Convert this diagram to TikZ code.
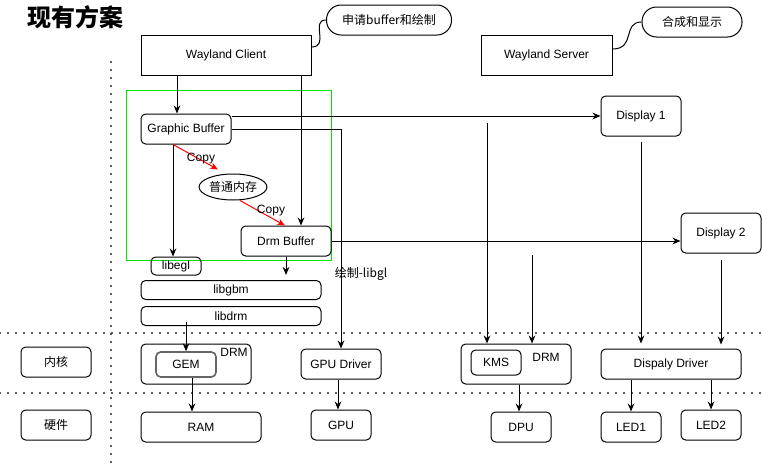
\documentclass[tikz,border=0pt]{standalone}
\usepackage{fontspec}
\setmainfont{Liberation Sans}
\newfontfamily\cjk{Noto Sans CJK SC}
\usetikzlibrary{arrows.meta,shapes.geometric,calc}

\begin{document}
\begin{tikzpicture}[x=0.75pt,y=-0.75pt,
  font=\fontsize{9}{11}\selectfont,
  line width=0.75pt,
  wh/.style 2 args={minimum width=#1*0.75pt, minimum height=#2*0.75pt},
  plain/.style={draw, inner sep=0pt},
  rbox/.style={draw, inner sep=0pt, rounded corners=3.5pt},
  pill/.style={draw, inner sep=0pt, rounded corners=11pt},
  arr/.style={-{Stealth[length=6pt,width=5pt]}},
  redarr/.style={red, -{Stealth[length=6pt,width=5pt]}},
  lbl/.style={inner sep=0pt},
  dotline/.style={line width=1.6pt, dash pattern=on 0pt off 6pt, line cap=round, black!85}
]
\useasboundingbox (0,0) rectangle (762,464);

% title
\node[lbl, font=\cjk\bfseries\fontsize{18}{21}\selectfont] (title) at (75,17) {现有方案};

% layer separators
\draw[dotline] (111,62) -- (111,464);
\draw[dotline] (0,333) -- (762,333);
\draw[dotline] (0,393) -- (762,393);

% user space
\node[plain, wh={170}{40}] (wc) at (226,55) {Wayland Client};
\node[plain, wh={131}{40}] (ws) at (546.5,55) {Wayland Server};
\node[pill, wh={125}{30}, font=\cjk\fontsize{9}{11}\selectfont] (c1) at (389,20) {申请buffer和绘制};
\node[pill, wh={100}{30}, font=\cjk\fontsize{9}{11}\selectfont] (c2) at (692,22) {合成和显示};
\draw (wc.east |- 0,47) .. controls (330,47) and (310,20) .. (c1.west);
\draw (ws.east |- 0,49) .. controls (636,49) and (622,22) .. (c2.west);

\draw[draw=green!90!black] (126,90) rectangle (331,260);

\node[rbox, wh={90}{30}] (gb) at (186,129) {Graphic Buffer};
\node[rbox, wh={90}{30}] (db) at (286,241) {Drm Buffer};
\node[draw, ellipse, inner sep=0pt, wh={58}{26}, font=\cjk\fontsize{9}{11}\selectfont] (mem) at (233,187) {普通内存};
\node[rbox, wh={50}{18}] (libegl) at (176,266) {libegl};
\node[rbox, wh={180}{19}] (libgbm) at (231,290) {libgbm};
\node[rbox, wh={180}{19}] (libdrm) at (231,316) {libdrm};

\node[rbox, wh={80}{40}] (d1) at (641,116) {Display 1};
\node[rbox, wh={80}{40}] (d2) at (721,233) {Display 2};

% kernel
\node[rbox, wh={70}{30}, font=\cjk\fontsize{9}{11}\selectfont] (kernel) at (56,362) {内核};
\node[rbox, wh={110}{40}] (drmL) at (196,364) {};
\node[lbl] (drmLt) at (234,352) {DRM};
\node[rbox, wh={60}{25}, draw=black!60, line width=1.2pt] (gem) at (186,364.5) {GEM};
\node[rbox, wh={80}{30}] (gpud) at (341,364) {GPU Driver};
\node[rbox, wh={110}{40}] (drmR) at (516,364) {};
\node[lbl] (drmRt) at (546,357) {DRM};
\node[rbox, wh={50}{25}] (kms) at (496,362.5) {KMS};
\node[rbox, wh={140}{30}] (dd) at (671,364) {Dispaly Driver};

% hardware
\node[rbox, wh={70}{30}, font=\cjk\fontsize{9}{11}\selectfont] (hw) at (56,425) {硬件};
\node[rbox, wh={120}{30}] (ram) at (201,427) {RAM};
\node[rbox, wh={60}{30}] (gpu) at (341,425) {GPU};
\node[rbox, wh={60}{30}] (dpu) at (521,427) {DPU};
\node[rbox, wh={60}{30}] (led1) at (631,427) {LED1};
\node[rbox, wh={60}{30}] (led2) at (711,425) {LED2};

% client side flow
\draw[arr] (wc.south -| 177,0) -- (gb.north -| 177,0);
\draw[arr] (wc.south -| 301,0) -- (db.north -| 301,0);
\draw[redarr] (gb.south -| 173,0) -- ([shift={(-15,-4)}]mem.north);
\node[lbl] (copy1) at (201,159) {Copy};
\draw[redarr] ([shift={(7,0)}]mem.south) -- (db.north -| 285,0);
\node[lbl] (copy2) at (271,211) {Copy};
\draw[arr] (gb.south -| 173,0) -- (libegl.north -| 173,0);
\draw[arr] (db.south) -- ($(libgbm.north -| db.south)+(0,-5)$);
\draw[arr] ($(libdrm.south -| gem.north)+(0,-4)$) -- (gem.north);
\draw[arr] (gem.south -| 192,0) -- (ram.north -| 192,0);
\draw[arr] (gb.east) -| (gpud.north);
\node[lbl, font=\cjk\fontsize{9}{11}\selectfont] (libgl) at (361,274) {绘制-libgl};
\draw[arr] (gpud.south -| 338,0) -- (gpu.north -| 338,0);

% display side flow
\draw[arr] (gb.east |- d1.west) -- (d1.west);
\draw[arr] (db.east) -- (db.east -| d2.west);
\coordinate (kmsin) at (487,123);
\coordinate (drmin) at (532,255);
\draw[arr] (kmsin) -- (drmR.north -| kmsin);
\draw[arr] (drmin) -- (drmR.north -| drmin);
\draw[arr] ([yshift=-3.75pt]d1.south) -- ([yshift=3.75pt]dd.north -| d1.south);
\draw[arr] ([yshift=-4.5pt]d2.south) -- ([yshift=3pt]dd.north -| d2.south);
\draw[arr] (drmR.south -| 519,0) -- (dpu.north -| 519,0);
\draw[arr] (dd.south -| led1.north) -- (led1.north);
\draw[arr] (dd.south -| led2.north) -- (led2.north);
\end{tikzpicture}
\end{document}
